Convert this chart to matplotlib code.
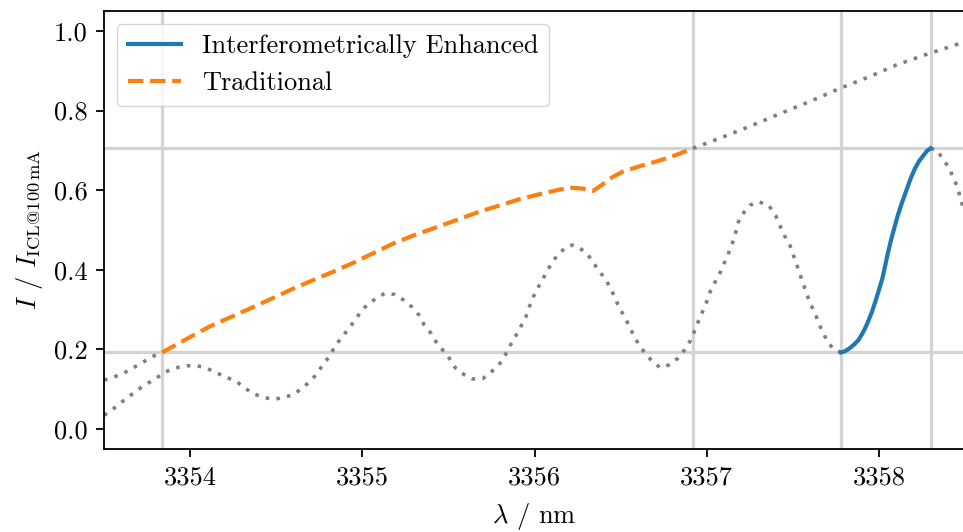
import matplotlib
matplotlib.use("Agg")
import matplotlib.pyplot as plt
import numpy as np

# ---------------- data ----------------
# Traditional sweep (gray dotted outside the used window, orange dashed inside)
trad_x = [3353.50, 3353.56, 3353.62, 3353.67, 3353.73, 3353.78, 3353.837,
          3354.11, 3354.38, 3354.615, 3354.83, 3354.94, 3355.06, 3355.18,
          3355.29, 3355.45, 3355.56, 3355.68, 3355.80, 3355.91, 3356.03,
          3356.15, 3356.22, 3356.28, 3356.34, 3356.39, 3356.45, 3356.51,
          3356.61, 3356.73, 3356.82, 3356.92,
          3357.085, 3357.26, 3357.43, 3357.60, 3357.77, 3357.95, 3358.11,
          3358.29, 3358.46, 3358.50]
trad_y = [0.123, 0.131, 0.142, 0.154, 0.169, 0.182, 0.1925,
          0.257, 0.309, 0.356, 0.395, 0.416, 0.441, 0.466,
          0.485, 0.510, 0.527, 0.546, 0.562, 0.577, 0.590,
          0.602, 0.606, 0.604, 0.598, 0.613, 0.632, 0.646,
          0.660, 0.675, 0.688, 0.705,
          0.732, 0.762, 0.793, 0.823, 0.855, 0.886, 0.916,
          0.943, 0.967, 0.972]

# Interferometrically enhanced sweep (gray dotted, blue solid inside window)
inter_x = [3353.50, 3353.535, 3353.606, 3353.70, 3353.81, 3353.87, 3353.93,
           3353.984, 3354.043, 3354.10, 3354.16, 3354.27, 3354.36, 3354.43,
           3354.49, 3354.55, 3354.60, 3354.65, 3354.70, 3354.74, 3354.77,
           3354.81, 3354.84, 3354.876, 3354.915, 3354.95, 3354.987, 3355.03,
           3355.08, 3355.13, 3355.19, 3355.24, 3355.29, 3355.33, 3355.36,
           3355.40, 3355.43, 3355.47, 3355.51, 3355.54, 3355.59, 3355.64,
           3355.70, 3355.75, 3355.80, 3355.83, 3355.86, 3355.89, 3355.92,
           3355.95, 3355.97, 3355.99, 3356.02, 3356.05, 3356.08, 3356.11,
           3356.15, 3356.19, 3356.22, 3356.25, 3356.30, 3356.34, 3356.37,
           3356.41, 3356.44, 3356.465, 3356.49, 3356.52, 3356.55, 3356.575,
           3356.605, 3356.64, 3356.68, 3356.73, 3356.78, 3356.83, 3356.87,
           3356.905, 3356.93, 3356.95, 3356.975, 3356.998, 3357.02, 3357.05,
           3357.08, 3357.105, 3357.13, 3357.16, 3357.19, 3357.25, 3357.30,
           3357.36, 3357.40, 3357.42, 3357.45, 3357.48, 3357.50, 3357.52,
           3357.54, 3357.56, 3357.58, 3357.60, 3357.63, 3357.65, 3357.68,
           3357.70, 3357.74, 3357.78,
           3357.80, 3357.83, 3357.86, 3357.88, 3357.90, 3357.92, 3357.94,
           3357.96, 3357.98, 3358.00, 3358.02, 3358.035, 3358.05, 3358.07,
           3358.09, 3358.11, 3358.135, 3358.16, 3358.185, 3358.21, 3358.235,
           3358.26, 3358.28, 3358.30,
           3358.34, 3358.37, 3358.41, 3358.43, 3358.46, 3358.47, 3358.49]
inter_y = [0.035, 0.044, 0.069, 0.100, 0.130, 0.146, 0.155,
           0.159, 0.159, 0.152, 0.140, 0.119, 0.090, 0.079,
           0.075, 0.080, 0.087, 0.102, 0.121, 0.141, 0.161,
           0.183, 0.207, 0.228, 0.249, 0.269, 0.292, 0.313,
           0.328, 0.341, 0.338, 0.324, 0.306, 0.286, 0.261,
           0.240, 0.218, 0.197, 0.175, 0.154, 0.137, 0.126,
           0.127, 0.144, 0.165, 0.186, 0.211, 0.233, 0.257,
           0.282, 0.307, 0.330, 0.355, 0.378, 0.402, 0.424,
           0.444, 0.459, 0.462, 0.458, 0.443, 0.420, 0.399,
           0.378, 0.355, 0.332, 0.307, 0.284, 0.259, 0.236,
           0.213, 0.192, 0.172, 0.154, 0.161, 0.177, 0.198,
           0.222, 0.247, 0.269, 0.294, 0.318, 0.345, 0.370,
           0.395, 0.420, 0.445, 0.480, 0.530, 0.562, 0.571,
           0.562, 0.537, 0.516, 0.487, 0.466, 0.441, 0.416,
           0.391, 0.366, 0.341, 0.316, 0.291, 0.265, 0.240,
           0.219, 0.200, 0.1925,
           0.195, 0.203, 0.214, 0.223, 0.237, 0.253, 0.273,
           0.295, 0.321, 0.349, 0.378, 0.407, 0.438, 0.474,
           0.506, 0.537, 0.570, 0.600, 0.630, 0.655, 0.674,
           0.688, 0.699, 0.705,
           0.700, 0.678, 0.656, 0.631, 0.606, 0.582, 0.556]

# used windows
trad_window = (3353.837, 3356.92)
inter_window = (3357.78, 3358.30)
level_low = 0.1925
level_high = 0.705

x_ticks = [3354, 3355, 3356, 3357, 3358]
y_ticks = [0.0, 0.2, 0.4, 0.6, 0.8, 1.0]

# ---------------- style ----------------
plt.rcParams['font.family'] = 'serif'
plt.rcParams['font.serif'] = ['cmr10', 'DejaVu Serif']
plt.rcParams['mathtext.fontset'] = 'cm'
plt.rcParams['axes.formatter.use_mathtext'] = True
plt.rcParams['axes.unicode_minus'] = False
FS = 19

fig = plt.figure(figsize=(9.63, 5.32), dpi=100)
ax = fig.add_axes([104/963, 1-449/532, (965-104)/963, (449-11)/532])

tx = np.array(trad_x); ty = np.array(trad_y)
ix = np.array(inter_x); iy = np.array(inter_y)

grid_kw = dict(color='#d3d3d3', lw=2.3, zorder=1)
for xv in (trad_window[0], trad_window[1], inter_window[0], inter_window[1]):
    ax.axvline(xv, **grid_kw)
for yv in (level_low, level_high):
    ax.axhline(yv, **grid_kw)

dot_kw = dict(color='gray', lw=2.6, linestyle=(0, (1, 2.0)), zorder=2)
m_left = tx <= trad_window[0]
m_right = tx >= trad_window[1]
m_in = (tx >= trad_window[0]) & (tx <= trad_window[1])
ax.plot(tx[m_left], ty[m_left], **dot_kw)
ax.plot(tx[m_right], ty[m_right], **dot_kw)

n_left = ix <= inter_window[0]
n_right = ix >= inter_window[1]
n_in = (ix >= inter_window[0]) & (ix <= inter_window[1])
ax.plot(ix[n_left], iy[n_left], **dot_kw)
ax.plot(ix[n_right], iy[n_right], **dot_kw)

ax.plot(ix[n_in], iy[n_in], color='#1f77b4', lw=3.0, zorder=3,
        label='Interferometrically Enhanced', solid_joinstyle='round')
ax.plot(tx[m_in], ty[m_in], color='#ff7f0e', lw=3.0, linestyle='--', zorder=3,
        label='Traditional')

ax.set_xlim(3353.5, 3358.5)
ax.set_ylim(-0.05, 1.05)
ax.set_xticks(x_ticks)
ax.set_xticklabels([str(v) for v in x_ticks])
ax.set_yticks(y_ticks)
ax.set_yticklabels([f"{v:.1f}" for v in y_ticks])
ax.tick_params(labelsize=FS, length=6, width=1.3, pad=6)
for s in ax.spines.values():
    s.set_linewidth(1.3)

ax.set_xlabel(r'$\lambda$ / nm', fontsize=FS, labelpad=8)
ax.set_ylabel(r'$I$ / $I_{\mathrm{ICL@100\,mA}}$', fontsize=FS, labelpad=6)

ax.legend(loc='upper left', fontsize=FS, handlelength=2.0)

fig.savefig('out.png', dpi=100)
